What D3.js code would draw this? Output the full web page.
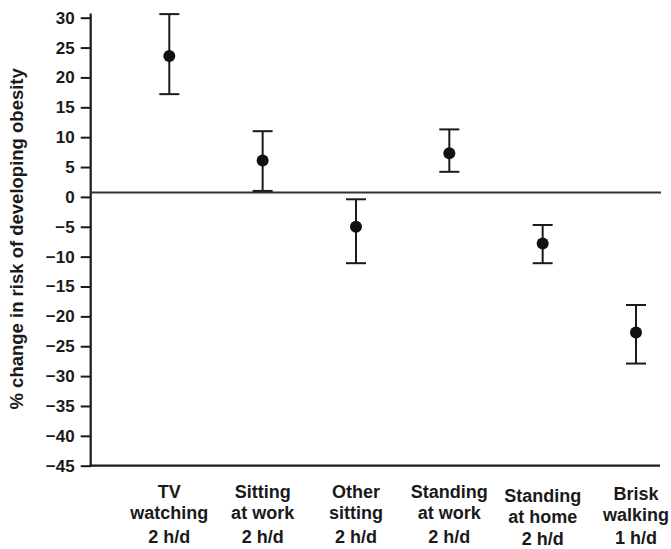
<!DOCTYPE html>
<html>
<head>
<meta charset="utf-8">
<script src="https://cdn.jsdelivr.net/npm/d3@7"></script>
<style>
  html, body { margin: 0; padding: 0; background: #fff; }
  svg { display: block; }
  text { font-family: "Liberation Sans", Arial, sans-serif; font-weight: bold; fill: #1a1a1a; }
</style>
</head>
<body>
<svg id="chart" width="671" height="549"></svg>
<script>
// Activity categories (two-line labels) and their dose
const categories = ["TV watching", "Sitting at work", "Other sitting", "Standing at work", "Standing at home", "Brisk walking"];
const labelTop = ["TV", "Sitting", "Other", "Standing", "Standing", "Brisk"];
const labelMid = ["watching", "at work", "sitting", "at work", "at home", "walking"];
const doses = ["2 h/d", "2 h/d", "2 h/d", "2 h/d", "2 h/d", "1 h/d"];

// % change in risk, with 95% CI
const estimates = [23.6, 6.1, -5.0, 7.3, -7.8, -22.7];
const lowerCI = [17.2, 1.0, -11.1, 4.2, -11.1, -27.9];
const upperCI = [30.6, 11.0, -0.4, 11.3, -4.7, -18.1];

const yTicks = [30, 25, 20, 15, 10, 5, 0, -5, -10, -15, -20, -25, -30, -35, -40, -45];
const refValue = 0.75; // reference line as drawn in the figure

const svg = d3.select("#chart");
const plotLeft = 90.7, plotRight = 660, plotTop = 17.7, plotBottom = 465.7;

const y = d3.scaleLinear().domain([-45, 30]).range([plotBottom, plotTop]);
const x = d3.scalePoint().domain(categories).range([169.3, 636]);

// y axis
const yAxis = svg.append("g")
  .attr("transform", `translate(${plotLeft},0)`)
  .call(d3.axisLeft(y).tickValues(yTicks).tickSize(10).tickSizeOuter(0).tickPadding(6));
yAxis.select(".domain").remove();
yAxis.selectAll(".tick line").attr("stroke", "#1a1a1a").attr("stroke-width", 2);
yAxis.selectAll(".tick text")
  .style("font-size", "17px")
  .style("font-family", "Liberation Sans, Arial, sans-serif")
  .style("font-weight", "bold")
  .attr("fill", "#1a1a1a");

svg.append("line")
  .attr("x1", plotLeft).attr("x2", plotLeft)
  .attr("y1", y(30.7)).attr("y2", plotBottom + 1)
  .attr("stroke", "#1a1a1a").attr("stroke-width", 2.2);

// x axis baseline
svg.append("line")
  .attr("x1", plotLeft - 1).attr("x2", plotRight)
  .attr("y1", plotBottom).attr("y2", plotBottom)
  .attr("stroke", "#1a1a1a").attr("stroke-width", 2.2);

// reference line
svg.append("line")
  .attr("x1", plotLeft).attr("x2", plotRight + 1)
  .attr("y1", y(refValue)).attr("y2", y(refValue))
  .attr("stroke", "#333").attr("stroke-width", 2);

// error bars
const rows = categories.map((c, i) => ({ c, est: estimates[i], lo: lowerCI[i], hi: upperCI[i] }));
const capHalf = 10;

const marks = svg.append("g").selectAll("g").data(rows).join("g");
marks.append("line")
  .attr("x1", (d) => x(d.c)).attr("x2", (d) => x(d.c))
  .attr("y1", (d) => y(d.hi)).attr("y2", (d) => y(d.lo))
  .attr("stroke", "#1a1a1a").attr("stroke-width", 2);
marks.append("line")
  .attr("x1", (d) => x(d.c) - capHalf).attr("x2", (d) => x(d.c) + capHalf)
  .attr("y1", (d) => y(d.hi)).attr("y2", (d) => y(d.hi))
  .attr("stroke", "#1a1a1a").attr("stroke-width", 2);
marks.append("line")
  .attr("x1", (d) => x(d.c) - capHalf).attr("x2", (d) => x(d.c) + capHalf)
  .attr("y1", (d) => y(d.lo)).attr("y2", (d) => y(d.lo))
  .attr("stroke", "#1a1a1a").attr("stroke-width", 2);
marks.append("circle")
  .attr("cx", (d) => x(d.c)).attr("cy", (d) => y(d.est))
  .attr("r", 6)
  .attr("fill", "#111");

// category labels
const nudge = { "Standing at home": 4, "Brisk walking": 2 };
const labels = svg.append("g").selectAll("text").data(categories).join("text")
  .attr("text-anchor", "middle")
  .style("font-size", "18px")
  .attr("transform", (d) => `translate(${x(d)},0)`);
labels.append("tspan").attr("x", 0).attr("y", (d) => 498 + (nudge[d] || 0)).text((d, i) => labelTop[i]);
labels.append("tspan").attr("x", 0).attr("y", (d) => 519 + (nudge[d] || 0)).text((d, i) => labelMid[i]);
labels.append("tspan").attr("x", 0).attr("y", (d) => 543 + (nudge[d] || 0) / 2).text((d, i) => doses[i]);

// y label
svg.append("text")
  .attr("transform", `translate(23,${(62.7 + 415) / 2}) rotate(-90)`)
  .attr("text-anchor", "middle")
  .style("font-size", "18.5px")
  .text("% change in risk of developing obesity");
</script>
</body>
</html>
